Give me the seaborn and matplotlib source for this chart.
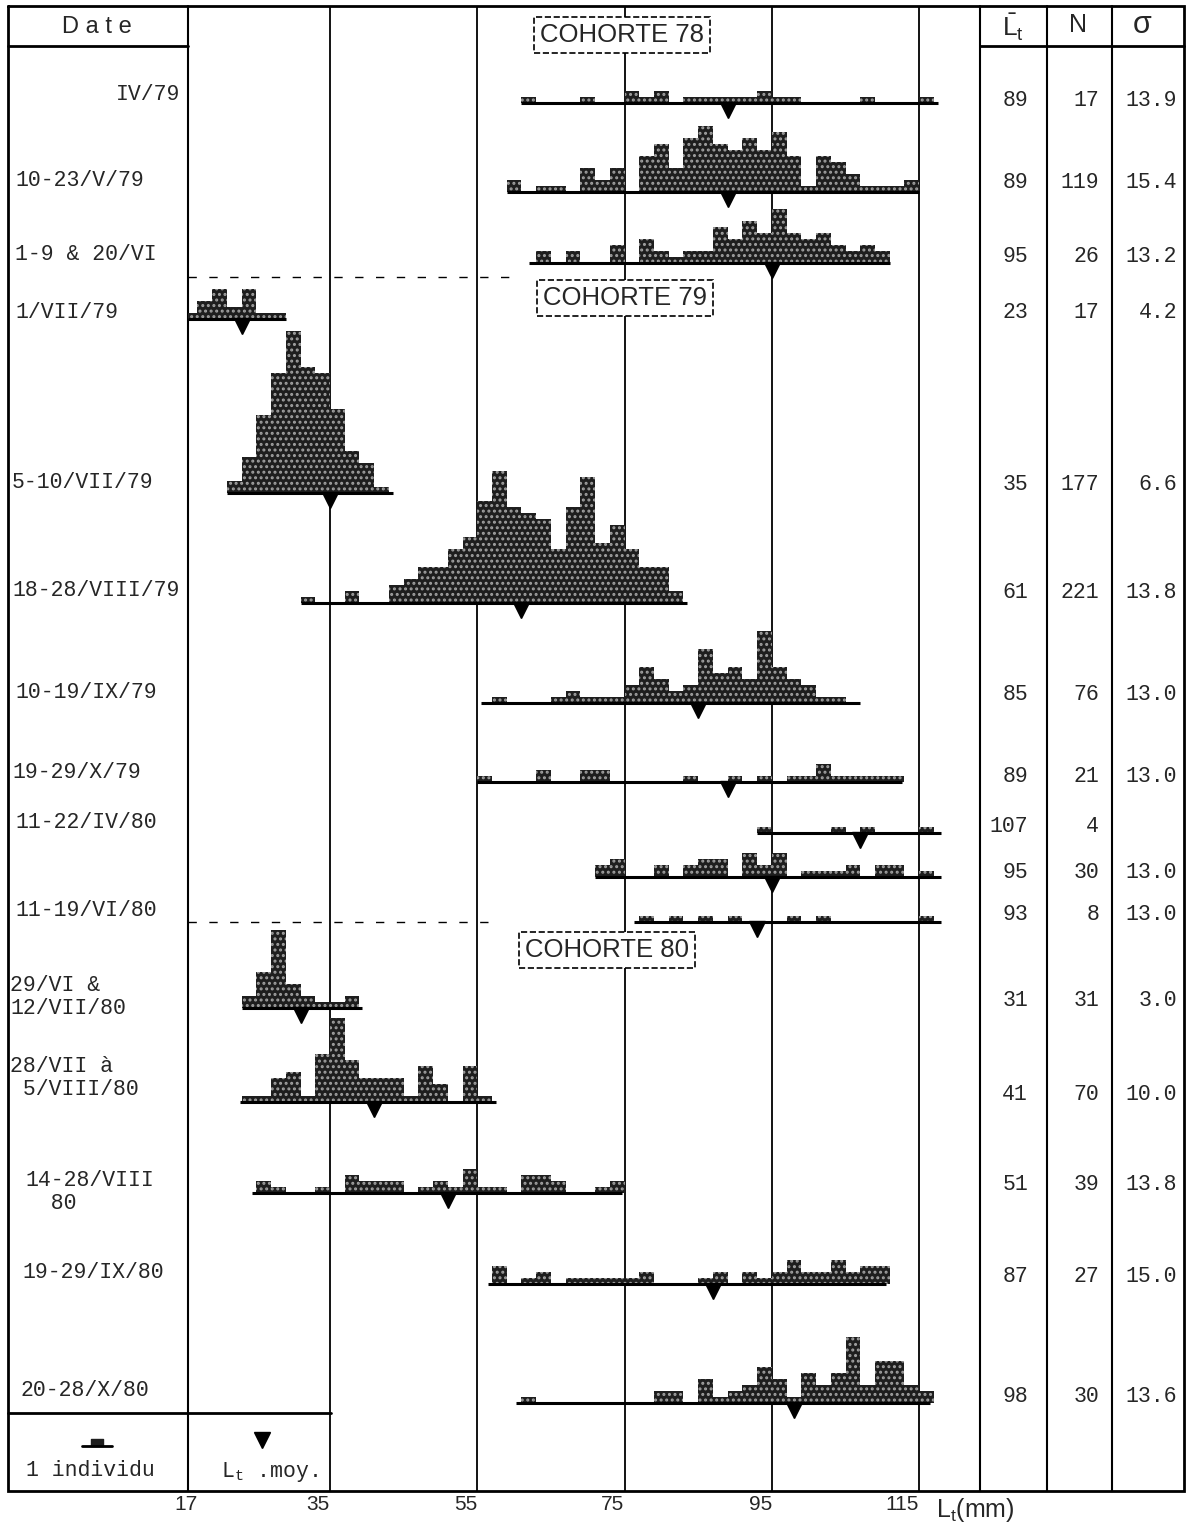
import numpy as np
import pandas as pd
import matplotlib
matplotlib.use("Agg")
import matplotlib.pyplot as plt
import seaborn as sns

sns.set_theme(style="white")
MONO = ["Liberation Mono", "DejaVu Sans Mono"]
SANS = ["Liberation Sans", "DejaVu Sans"]
plt.rcParams["font.family"] = MONO
plt.rcParams["mathtext.fontset"] = "custom"
plt.rcParams["mathtext.rm"] = "Liberation Mono"
plt.rcParams["mathtext.sf"] = "Liberation Sans"
plt.rcParams["hatch.linewidth"] = 1.4

# ---------------------------------------------------------------- table data
dates = ["IV/79", "10-23/V/79", "1-9 & 20/VI", "1/VII/79", "5-10/VII/79",
         "18-28/VIII/79", "10-19/IX/79", "19-29/X/79", "11-22/IV/80", "",
         "11-19/VI/80", "29/VI &\n12/VII/80", "28/VII à\n 5/VIII/80",
         "14-28/VIII\n  80", "19-29/IX/80", "20-28/X/80"]
mean_lt = [89, 89, 95, 23, 35, 61, 85, 89, 107, 95, 93, 31, 41, 51, 87, 98]
n_fish = [17, 119, 26, 17, 177, 221, 76, 21, 4, 30, 8, 31, 70, 39, 27, 30]
sigma = ["13.9", "15.4", "13.2", "4.2", "6.6", "13.8", "13.0", "13.0", "",
         "13.0", "13.0", "3.0", "10.0", "13.8", "15.0", "13.6"]

# ------------------------- length classes (lower bound, mm) and fish counts
cls_01 = [61, 69, 75, 77, 79, 83, 85, 87, 89, 91, 93, 95, 97, 107, 115]
cnt_01 = [1, 1, 2, 1, 2, 1, 1, 1, 1, 1, 2, 1, 1, 1, 1]
cls_02 = [59, 63, 65, 69, 71, 73, 77, 79, 81, 83, 85, 87, 89, 91, 93, 95, 97,
          99, 101, 103, 105, 107, 109, 111, 113]
cnt_02 = [2, 1, 1, 4, 2, 4, 6, 8, 4, 9, 11, 8, 7, 9, 7, 10, 6, 1, 6, 5, 3, 1,
          1, 1, 2]
cls_03 = [63, 67, 73, 77, 79, 81, 83, 85, 87, 89, 91, 93, 95, 97, 99, 101,
          103, 105, 107, 109]
cnt_03 = [2, 2, 3, 4, 2, 1, 2, 2, 6, 4, 7, 5, 9, 5, 4, 5, 3, 2, 3, 2]
cls_04 = [15, 17, 19, 21, 23, 25, 27]
cnt_04 = [1, 3, 5, 2, 5, 1, 1]
cls_05 = [21, 23, 25, 27, 29, 31, 33, 35, 37, 39, 41]
cnt_05 = [2, 6, 13, 20, 27, 21, 20, 14, 7, 5, 1]
cls_06 = [31, 37, 43, 45, 47, 49, 51, 53, 55, 57, 59, 61, 63, 65, 67, 69, 71,
          73, 75, 77, 79, 81]
cnt_06 = [1, 2, 3, 4, 6, 6, 9, 11, 17, 22, 16, 15, 14, 9, 16, 21, 10, 13, 9,
          6, 6, 2]
cls_07 = [57, 65, 67, 69, 71, 73, 75, 77, 79, 81, 83, 85, 87, 89, 91, 93, 95,
          97, 99, 101, 103]
cnt_07 = [1, 1, 2, 1, 1, 1, 3, 6, 4, 2, 3, 9, 5, 6, 4, 12, 6, 4, 3, 1, 1]
cls_08 = [55, 63, 69, 71, 83, 89, 93, 97, 99, 101, 103, 105, 107, 109, 111]
cnt_08 = [1, 2, 2, 2, 1, 1, 1, 1, 1, 3, 1, 1, 1, 1, 1]
cls_09 = [93, 103, 107, 115]
cnt_09 = [1, 1, 1, 1]
cls_10 = [71, 73, 79, 83, 85, 87, 91, 93, 95, 99, 101, 103, 105, 109, 111, 115]
cnt_10 = [2, 3, 2, 2, 3, 3, 4, 2, 4, 1, 1, 1, 2, 2, 2, 1]
cls_11 = [77, 81, 85, 89, 97, 101, 115]
cnt_11 = [1, 1, 1, 1, 1, 1, 1]
cls_12 = [23, 25, 27, 29, 31, 33, 35, 37]
cnt_12 = [2, 6, 13, 4, 2, 1, 1, 2]
cls_13 = [23, 25, 27, 29, 31, 33, 35, 37, 39, 41, 43, 45, 47, 49, 53, 55]
cnt_13 = [1, 1, 4, 5, 1, 8, 14, 7, 4, 4, 4, 1, 6, 3, 6, 1]
cls_14 = [25, 27, 33, 37, 39, 41, 43, 47, 49, 51, 53, 55, 57, 61, 63, 65, 71, 73]
cnt_14 = [2, 1, 1, 3, 2, 2, 2, 1, 2, 1, 4, 1, 1, 3, 3, 2, 1, 2]
cls_15 = [57, 61, 63, 67, 69, 71, 73, 75, 77, 85, 87, 91, 93, 95, 97, 99, 101,
          103, 105, 107, 109]
cnt_15 = [3, 1, 2, 1, 1, 1, 1, 1, 2, 1, 2, 2, 1, 2, 4, 2, 2, 4, 2, 3, 3]
cls_16 = [61, 79, 81, 85, 87, 89, 91, 93, 95, 97, 99, 101, 103, 105, 107, 109,
          111, 113, 115]
cnt_16 = [1, 2, 2, 4, 1, 2, 3, 6, 4, 1, 5, 3, 5, 11, 3, 7, 7, 3, 2]

# length range sampled on each date (mm)
span_lo = [61, 59, 62, 15.7, 21, 31, 55.5, 55, 93, 71, 76.3, 23, 22.8, 24.4,
           56.5, 60.3]
span_hi = [117.5, 115, 111, 29, 43.5, 83.5, 107, 112.7, 118, 118, 118, 39.3,
           57.5, 74.6, 110.5, 116.5]

classes = [cls_01, cls_02, cls_03, cls_04, cls_05, cls_06, cls_07, cls_08,
           cls_09, cls_10, cls_11, cls_12, cls_13, cls_14, cls_15, cls_16]
counts = [cnt_01, cnt_02, cnt_03, cnt_04, cnt_05, cnt_06, cnt_07, cnt_08,
          cnt_09, cnt_10, cnt_11, cnt_12, cnt_13, cnt_14, cnt_15, cnt_16]

x_ticks = [17, 35, 55, 75, 95, 115]
grid_mm = [35, 55, 75, 95, 115]
CLASS_W = 2

# ---------------------------------------------------------------- layout (px)
W, H = 1191, 1526
PLOT_L, PLOT_R = 188, 980
TOP, BOTTOM = 6, 1491
XLIM = (15.72, 123.26)
UNIT = 6.0  # pixels for one fish
row_base = [103, 192, 263, 319, 493, 603, 703, 782, 833, 877, 922, 1008,
            1102, 1193, 1284, 1403]
date_x = [180, 15, 15, 15, 12, 12, 15, 12, 15, 0, 15, 10, 10, 25, 22, 20]
date_y = [95, 180, 255, 312, 482, 590, 692, 773, 823, 0, 910, 997, 1078,
          1192, 1272, 1390]
val_y = [100, 183, 256, 313, 485, 592, 695, 777, 826, 873, 915, 1000, 1095,
         1185, 1276, 1396]


def fx(px):
    return px / W


def fy(py):
    return 1 - py / H


fig = plt.figure(figsize=(W / 100, H / 100), dpi=100)
fig.patch.set_facecolor("white")

# table frame
frame = fig.add_axes([0, 0, 1, 1], zorder=0)
frame.set_xlim(0, W)
frame.set_ylim(H, 0)
frame.axis("off")
LW = 2.0
frame.plot([8, 1184, 1184, 8, 8], [TOP, TOP, BOTTOM, BOTTOM, TOP],
           color="black", lw=LW, solid_joinstyle="miter")
for xv in [PLOT_L, PLOT_R, 1047, 1112]:
    frame.plot([xv, xv], [TOP, BOTTOM], color="black", lw=1.5)
frame.plot([8, PLOT_L], [46, 46], color="black", lw=LW)
frame.plot([PLOT_R, 1184], [46, 46], color="black", lw=LW)
frame.plot([8, 331], [1413, 1413], color="black", lw=LW)
frame.plot([PLOT_L, 515], [277, 277], color="black", lw=1.0,
           linestyle=(0, (6, 9)))
frame.plot([PLOT_L, 500], [922, 922], color="black", lw=1.0,
           linestyle=(0, (6, 9)))

# length axis with reference lines
gax = fig.add_axes([fx(PLOT_L), fy(BOTTOM), fx(PLOT_R) - fx(PLOT_L),
                    (BOTTOM - TOP) / H], zorder=1)
gax.set_facecolor("none")
gax.set_xlim(XLIM)
gax.set_ylim(0, 1)
for v in grid_mm:
    gax.axvline(v, color="black", lw=1.3)
gax.set_yticks([])
gax.set_xticks(x_ticks)
gax.set_xticklabels([str(t) for t in x_ticks], ha="right", fontsize=15,
                    family=SANS)
gax.tick_params(axis="x", length=0, pad=3)
for sp in gax.spines.values():
    sp.set_visible(False)

# one histogram per sampling date
for i in range(len(classes)):
    df = pd.DataFrame({"lt": np.array(classes[i]) + CLASS_W / 2,
                       "n": counts[i]})
    top_u = max(counts[i]) + 1.5
    bot_u = 3.0
    ax = fig.add_axes([fx(PLOT_L), fy(row_base[i] + bot_u * UNIT),
                       fx(PLOT_R) - fx(PLOT_L), (top_u + bot_u) * UNIT / H],
                      zorder=2)
    sns.histplot(data=df, x="lt", weights="n", binwidth=CLASS_W,
                 binrange=(13, 125), ax=ax,
                 color="#1e1e1e", edgecolor="#a0a0a0", linewidth=0,
                 hatch="...", alpha=1)
    ax.plot([span_lo[i], span_hi[i]], [0, 0], color="black", lw=2.2,
            solid_capstyle="butt", clip_on=False)
    ax.plot([mean_lt[i]], [-1.1], marker="v", color="black",
            markersize=11, clip_on=False)
    ax.set_xlim(XLIM)
    ax.set_ylim(-bot_u, top_u)
    ax.set_facecolor("none")
    ax.axis("off")

# text overlay
top = fig.add_axes([0, 0, 1, 1], zorder=5)
top.set_xlim(0, W)
top.set_ylim(H, 0)
top.axis("off")
top.set_facecolor("none")

top.text(97, 27, "D a t e", ha="center", va="center", fontsize=17,
         family=SANS)
top.text(1013, 27, r"$\bar{\mathsf{L}}_{\mathsf{t}}$", ha="center",
         va="center", fontsize=19)
top.text(1078, 25, "N", ha="center", va="center", fontsize=18, family=SANS)
top.text(1142, 25, "σ", ha="center", va="center", fontsize=22, family=SANS)

box = dict(boxstyle="square,pad=0.25", fc="white", ec="black", lw=1.2,
           ls="--")
top.text(622, 35, "COHORTE 78", ha="center", va="center", fontsize=18.5,
         family=SANS, bbox=box)
top.text(625, 298, "COHORTE 79", ha="center", va="center", fontsize=18.5,
         family=SANS, bbox=box)
top.text(607, 950, "COHORTE 80", ha="center", va="center", fontsize=18.5,
         family=SANS, bbox=box)

for i, d in enumerate(dates):
    if d:
        top.text(date_x[i], date_y[i], d, ha="right" if i == 0 else "left",
                 va="center", fontsize=15.5, linespacing=1.15)
    top.text(1028, val_y[i], str(mean_lt[i]), ha="right", va="center",
             fontsize=15.5)
    top.text(1099, val_y[i], str(n_fish[i]), ha="right", va="center",
             fontsize=15.5)
    if sigma[i]:
        top.text(1177, val_y[i], sigma[i], ha="right", va="center",
                 fontsize=15.5)

# key cells
top.plot([82, 112], [1446, 1446], color="black", lw=2)
top.fill_between([91, 103], 1446, 1439, color="#1e1e1e")
top.text(90, 1470, "1 individu", ha="center", va="center", fontsize=15.5)
top.plot([262], [1440], marker="v", color="black", markersize=11)
top.text(270, 1472, r"L$_{\mathrm{t}}$ .moy.", ha="center", va="center",
         fontsize=15.5)
top.text(975, 1510, r"L$_{\mathsf{t}}$(mm)", ha="center", va="center",
         fontsize=18, family=SANS)

fig.savefig("out.png", dpi=100, facecolor="white")
